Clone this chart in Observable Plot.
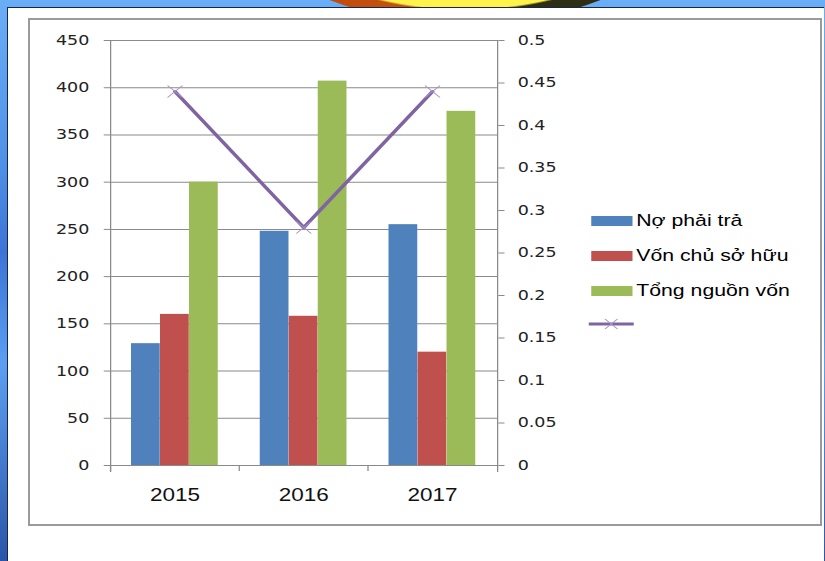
<!DOCTYPE html>
<html><head><meta charset="utf-8">
<script src="https://cdn.jsdelivr.net/npm/d3@7"></script>
<script src="https://cdn.jsdelivr.net/npm/@observablehq/plot@0.6"></script>
<style>
html,body{margin:0;padding:0;}
body{width:825px;height:561px;overflow:hidden;position:relative;
 background:linear-gradient(180deg,#6aaef7 0%,#4f8fe6 30%,#3b74d6 45%,#5c9ff2 65%,#2a55a8 100%);}
#sun{position:absolute;left:85px;top:-735px;width:760px;height:760px;border-radius:50%;
 background:radial-gradient(circle at center,#fff24a 0,#fff24a 364px,transparent 366px),
 linear-gradient(90deg,#b03a08 0,#c9560f 50%,#2e2e14 50%,#2e2e14 100%);}
#panel{position:absolute;left:7px;top:7px;width:817px;height:554px;background:#fff;
 border-left:1px solid #16264d;border-top:1px solid #16264d;box-sizing:border-box;}
#frame{position:absolute;left:28px;top:18px;width:794px;height:508px;border:2px solid #9a9a9a;box-sizing:border-box;}
#stage{position:absolute;left:0;top:0;width:660px;height:561px;transform:scaleX(1.25);transform-origin:0 0;}
.layer{position:absolute;left:0;top:0;}
.leg{position:absolute;font-family:"Liberation Sans",Arial,sans-serif;font-size:17px;color:#000;white-space:nowrap;line-height:20px;}
.sw{position:absolute;width:33px;height:10px;}
</style></head>
<body>
<div id="sun"></div>
<div id="panel"></div>
<div id="frame"></div>
<div id="stage"></div>
<script>
const years = ["2015", "2016", "2017"];
const noPhaiTra = [129, 248, 255];
const vonChuSoHuu = [160, 158, 120];
const tongNguonVon = [300, 407, 375];
const tyLe = [0.44, 0.28, 0.44];
const leftTicks = [0, 50, 100, 150, 200, 250, 300, 350, 400, 450];
const rightTicks = [0, 0.05, 0.1, 0.15, 0.2, 0.25, 0.3, 0.35, 0.4, 0.45, 0.5];
const seriesNames = ["Nợ phải trả", "Vốn chủ sở hữu", "Tổng nguồn vốn"];
const seriesColors = ["#4f81bd", "#c0504d", "#9bbb59"];
const lineColor = "#8064a2";
const markerColor = "#a895c8";

const toRows = vals => years.map((y, i) => ({year: y, value: vals[i]}));
const seriesRows = [noPhaiTra, vonChuSoHuu, tongNguonVon].map(toRows);
const lineRows = toRows(tyLe);

const W = 660, H = 561, mL = 88, mR = 262.4, mT = 40, mB = 96;
const bw = (W - mL - mR) / years.length;
const barW = 23.2;
const inset = (bw - barW) / 2;
const common = {
  width: W, height: H, marginLeft: mL, marginRight: mR, marginTop: mT, marginBottom: mB,
  style: {background: "transparent", overflow: "visible", color: "#000"}
};

const p1 = Plot.plot({
  ...common,
  x: {type: "band", domain: years, padding: 0, axis: null, label: null},
  y: {domain: [0, 450], axis: null, label: null},
  marks: [
    Plot.gridY(leftTicks, {stroke: "#8a8a8a", strokeOpacity: 1}),
    Plot.axisY(leftTicks, {anchor: "left", tickSize: 5, tickPadding: 12, stroke: "#8a8a8a",
      fontSize: 14, fontFamily: "DejaVu Sans", fill: "#222", label: null}),
    Plot.frame({anchor: "left", stroke: "#8a8a8a", insetBottom: -6}),
    Plot.frame({anchor: "right", stroke: "#8a8a8a", insetBottom: -6}),
    Plot.axisX({tickSize: 6, stroke: "#8a8a8a", tickFormat: () => "", dx: -bw / 2, label: null}),
    ...seriesRows.map((rows, k) => Plot.barY(rows, {
      x: "year", y: "value", fill: seriesColors[k],
      insetLeft: inset, insetRight: inset, dx: (k - 1) * barW
    })),
    Plot.axisX({tickSize: 0, tickPadding: 23, fontSize: 18, fontFamily: "Liberation Sans", fill: "#111", label: null})
  ]
});
p1.classList.add("layer");

const p2 = Plot.plot({
  ...common,
  x: {type: "band", domain: years, padding: 0, axis: null, label: null},
  y: {domain: [0, 0.5], axis: null, label: null},
  marks: [
    Plot.axisY(rightTicks, {anchor: "right", tickSize: 5, tickPadding: 11, stroke: "#8a8a8a",
      tickFormat: d => String(d), fontSize: 14, fontFamily: "DejaVu Sans", fill: "#222", label: null}),
    Plot.lineY(lineRows, {x: "year", y: "value", stroke: lineColor, strokeWidth: 3}),
    Plot.dot(lineRows, {x: "year", y: "value", symbol: "times", r: 5.5, stroke: markerColor, strokeWidth: 1})
  ]
});
p2.classList.add("layer");

const stage = document.getElementById("stage");
stage.appendChild(p1);
stage.appendChild(p2);

// legend (HTML)
const legTop = [215.7, 250.5, 285.7];
seriesNames.forEach((name, i) => {
  const sw = document.createElement("div");
  sw.className = "sw";
  sw.style.left = "472.8px";
  sw.style.top = legTop[i] + "px";
  sw.style.background = seriesColors[i];
  stage.appendChild(sw);
  const t = document.createElement("div");
  t.className = "leg";
  t.style.left = "509px";
  t.style.top = (legTop[i] - 5) + "px";
  t.textContent = name;
  stage.appendChild(t);
});
const ls = document.createElementNS("http://www.w3.org/2000/svg", "svg");
ls.setAttribute("width", 40); ls.setAttribute("height", 20);
ls.style.position = "absolute"; ls.style.left = "470px"; ls.style.top = "314px";
ls.innerHTML = `<line x1="1" y1="10" x2="37" y2="10" stroke="${lineColor}" stroke-width="3"/>
<path d="M14,5 L24,15 M14,15 L24,5" stroke="${markerColor}" stroke-width="1"/>`;
stage.appendChild(ls);
</script>
</body></html>
